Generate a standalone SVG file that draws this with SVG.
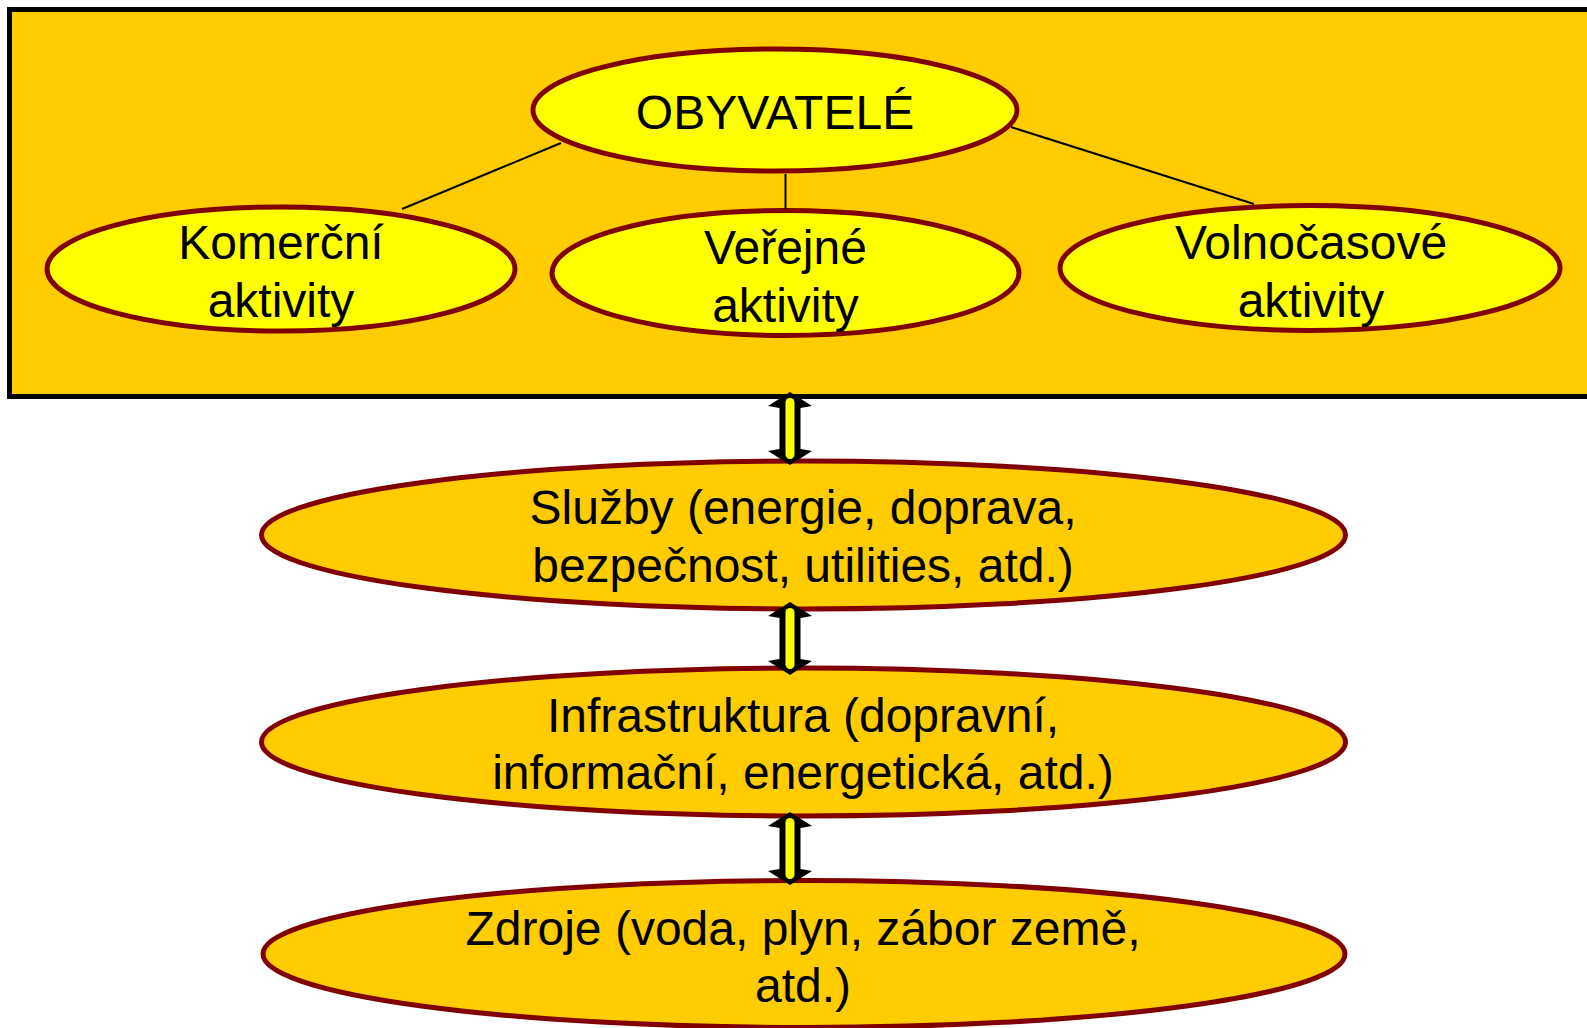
<svg xmlns="http://www.w3.org/2000/svg" width="1587" height="1028" viewBox="0 0 1587 1028">
<defs>
<style>
.txt{font-family:"Liberation Sans",Arial,sans-serif;font-size:48px;fill:#000;text-anchor:middle}
.top{fill:#FFFF00;stroke:#800000;stroke-width:5}
.low{fill:#FFCC00;stroke:#800000;stroke-width:5}
.link{stroke:#000;stroke-width:2;fill:none}
.arrb{fill:#000}
.arry{fill:#FFFF00}
</style>
<g id="dblarrow">
<polygon class="arrb" points="0,0 22,14 10.5,16 10.5,57 22,59 0,73 -22,59 -10.5,57 -10.5,16 -22,14"/>
<rect class="arry" x="-4.5" y="6" width="9" height="61" rx="4.5"/>
</g>
</defs>
<rect width="1587" height="1028" fill="#FFFFFF"/>
<g id="frame">
<rect x="9.5" y="9.5" width="1600" height="387" fill="#FFCC00" stroke="#000" stroke-width="5"/>
</g>
<g id="obyvatele">
<ellipse class="top" cx="775" cy="110" rx="242" ry="61"/>
<text class="txt" x="775" y="129">OBYVATELÉ</text>
</g>
<g id="komercni">
<ellipse class="top" cx="281" cy="269" rx="234" ry="62"/>
<text class="txt" x="281" y="259">Komerční</text>
<text class="txt" x="281" y="317">aktivity</text>
</g>
<g id="verejne">
<ellipse class="top" cx="785.5" cy="273" rx="233.5" ry="62.5"/>
<text class="txt" x="785.5" y="264">Veřejné</text>
<text class="txt" x="785.5" y="322">aktivity</text>
</g>
<g id="volnocasove">
<ellipse class="top" cx="1310" cy="268" rx="250" ry="62.5"/>
<text class="txt" x="1311" y="259">Volnočasové</text>
<text class="txt" x="1311" y="317">aktivity</text>
</g>
<g id="sluzby">
<ellipse class="low" cx="803.5" cy="535" rx="542" ry="74"/>
<text class="txt" x="803" y="524">Služby (energie, doprava,</text>
<text class="txt" x="803" y="582">bezpečnost, utilities, atd.)</text>
</g>
<g id="infrastruktura">
<ellipse class="low" cx="803.5" cy="742" rx="542" ry="74"/>
<text class="txt" x="803" y="732">Infrastruktura (dopravní,</text>
<text class="txt" x="803" y="789">informační, energetická, atd.)</text>
</g>
<g id="zdroje">
<ellipse class="low" cx="804" cy="954" rx="541" ry="73.5"/>
<text class="txt" x="803" y="945">Zdroje (voda, plyn, zábor země,</text>
<text class="txt" x="803" y="1002">atd.)</text>
</g>
<g id="connectors">
<line class="link" x1="561" y1="143" x2="402" y2="209"/>
<line class="link" x1="785.5" y1="174" x2="785.5" y2="209"/>
<line class="link" x1="1011" y1="127" x2="1254" y2="204"/>
<use href="#dblarrow" transform="translate(790,392)"/>
<use href="#dblarrow" transform="translate(790,602)"/>
<use href="#dblarrow" transform="translate(790,812)"/>
</g>
</svg>
